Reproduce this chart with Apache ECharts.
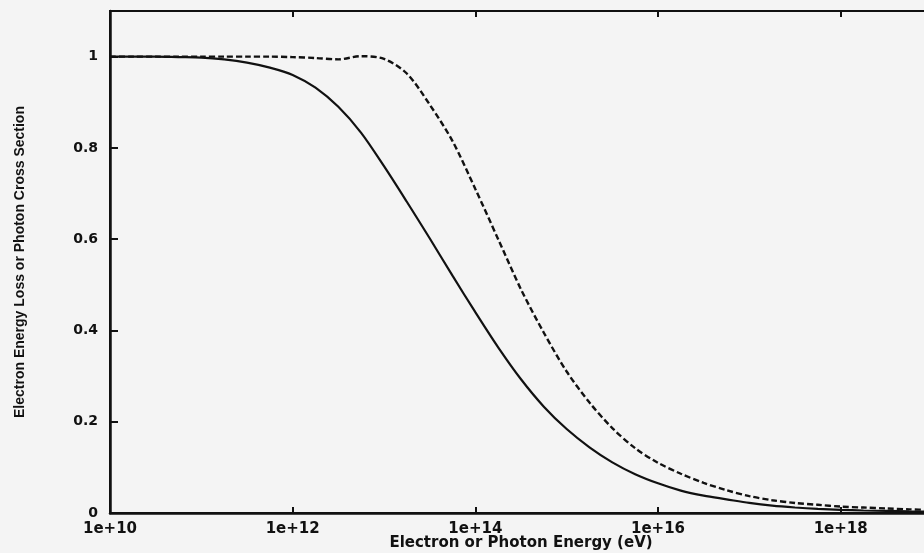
<!DOCTYPE html>
<html>
<head>
<meta charset="utf-8">
<script src="https://cdn.jsdelivr.net/npm/echarts@6/dist/echarts.min.js"></script>
<style>
  html, body { margin: 0; padding: 0; background: #f4f4f4; }
  #chart { width: 924px; height: 553px; }
</style>
</head>
<body>
<div id="chart"></div>
<script>
// Energy grid as powers of ten (eV), quarter-decade steps
const energyExponents = [10, 10.25, 10.5, 10.75, 11, 11.25, 11.5, 11.75,
  12, 12.25, 12.5, 12.75, 13, 13.25, 13.5, 13.75,
  14, 14.25, 14.5, 14.75, 15, 15.25, 15.5, 15.75,
  16, 16.25, 16.5, 16.75, 17, 17.25, 17.5, 17.75,
  18, 18.25, 18.5, 18.75, 19];

// Electron energy loss (solid curve)
const electronLoss = [1.0, 1.0, 1.0, 0.999, 0.998, 0.994, 0.987, 0.976,
  0.96, 0.932, 0.89, 0.833, 0.76, 0.682, 0.602, 0.52,
  0.44, 0.363, 0.293, 0.233, 0.184, 0.144, 0.111, 0.085,
  0.065, 0.049, 0.038, 0.03, 0.022, 0.016, 0.012, 0.009,
  0.007, 0.0055, 0.0045, 0.0035, 0.003];

// Photon cross section (dashed curve)
const photonCross = [1.0, 1.0, 1.0, 1.0, 1.0, 1.0, 1.0, 1.0,
  0.999, 0.997, 0.994, 1.001, 0.995, 0.963, 0.895, 0.815,
  0.71, 0.6, 0.49, 0.395, 0.31, 0.242, 0.186, 0.142,
  0.11, 0.086, 0.066, 0.05, 0.037, 0.028, 0.022, 0.018,
  0.014, 0.012, 0.01, 0.008, 0.007];

const yTicks = [0, 0.2, 0.4, 0.6, 0.8, 1];
const yTickLabels = ['0', '0.2', '0.4', '0.6', '0.8', '1'];

const energies = energyExponents.map(e => Math.pow(10, e));
const pairs = vals => energies.map((x, i) => [x, vals[i]]);

const FONT = '"DejaVu Sans", "Liberation Sans", sans-serif';

const chart = echarts.init(document.getElementById('chart'), null, { renderer: 'canvas' });

const xLabelFmt = v => {
  const p = Math.round(Math.log10(v));
  return (p % 2 === 0 && p < 19) ? '1e+' + p : '';
};

chart.setOption({
  backgroundColor: '#f4f4f4',
  animation: false,
  grid: {
    left: 110, right: -8, top: 11, bottom: 40,
    outerBoundsMode: 'none', containLabel: false,
    show: true, borderColor: '#111', borderWidth: 2, backgroundColor: 'transparent'
  },
  xAxis: [{
    type: 'log', logBase: 10, min: 1e10, max: 1e19, interval: 2,
    position: 'bottom',
    name: 'Electron or Photon Energy (eV)',
    nameLocation: 'middle', nameGap: 23, nameMoveOverlap: false,
    nameTextStyle: { fontFamily: FONT, fontWeight: 'bold', fontSize: 15, color: '#111' },
    axisLine: { show: true, lineStyle: { color: '#111', width: 2.5 } },
    axisTick: { show: true, inside: true, length: 6, lineStyle: { color: '#111', width: 2 } },
    minorTick: { show: false },
    splitLine: { show: false },
    axisLabel: {
      formatter: xLabelFmt, margin: 9,
      fontFamily: FONT, fontWeight: 'bold', fontSize: 15, color: '#111'
    }
  }, {
    type: 'log', logBase: 10, min: 1e10, max: 1e19, interval: 2,
    position: 'top',
    axisLine: { show: true, lineStyle: { color: '#111', width: 2 } },
    axisTick: { show: true, inside: true, length: 6, lineStyle: { color: '#111', width: 2 } },
    splitLine: { show: false },
    axisLabel: { show: false }
  }],
  yAxis: {
    type: 'value', min: 0, max: 1.1, interval: 0.2,
    name: 'Electron Energy Loss or Photon Cross Section',
    nameLocation: 'middle', nameGap: 83,
    nameTextStyle: { fontFamily: '"Liberation Sans", sans-serif', fontWeight: 'bold', fontSize: 14, color: '#111' },
    axisLine: { show: true, lineStyle: { color: '#111', width: 2.5 } },
    axisTick: { show: true, inside: true, length: 8, lineStyle: { color: '#111', width: 2 } },
    splitLine: { show: false },
    axisLabel: {
      margin: 12,
      fontFamily: FONT, fontWeight: 'bold', fontSize: 14, color: '#111',
      formatter: v => {
        const i = yTicks.findIndex(t => Math.abs(t - v) < 1e-9);
        return i >= 0 ? yTickLabels[i] : '';
      }
    }
  },
  series: [{
    name: 'Electron energy loss',
    type: 'line', data: pairs(electronLoss), smooth: 0.3,
    showSymbol: false, symbol: 'none',
    lineStyle: { color: '#111', width: 2.2, type: 'solid' }
  }, {
    name: 'Photon cross section',
    type: 'line', data: pairs(photonCross), smooth: 0.3,
    showSymbol: false, symbol: 'none',
    lineStyle: { color: '#111', width: 2.4, type: [6, 3] }
  }]
});
</script>
</body>
</html>
